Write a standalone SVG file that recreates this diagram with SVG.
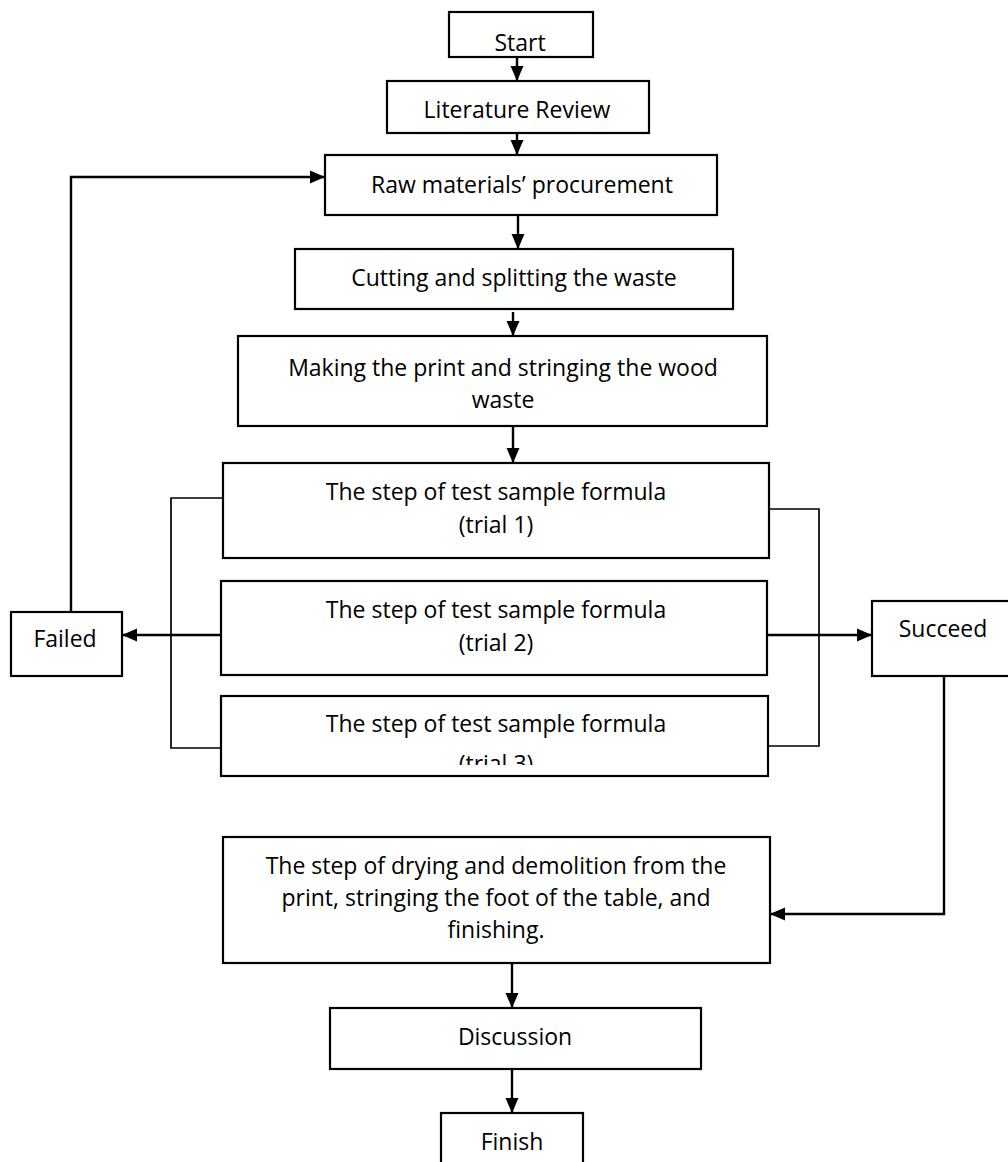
<svg xmlns="http://www.w3.org/2000/svg" width="1008" height="1162" viewBox="0 0 1008 1162">
  <style>
    .box { fill: #ffffff; stroke: #000000; stroke-width: 2.2; }
    .lbl { font-family: "Open Sans", "Liberation Sans", sans-serif; font-size: 23px; fill: #000000; text-anchor: middle; }
    .con { fill: none; stroke: #000000; stroke-width: 2.4; }
    .thin { fill: none; stroke: #000000; stroke-width: 1.7; }
  </style>
  <defs>
    <marker id="arr" markerUnits="userSpaceOnUse" markerWidth="16" markerHeight="16" viewBox="0 0 16 16" refX="15" refY="8" orient="auto">
      <path d="M0,1.5 L15,8 L0,14.5 Z" fill="#000000"/>
    </marker>
    <clipPath id="clip3">
      <rect x="220" y="690" width="550" height="75"/>
    </clipPath>
  </defs>
  <rect width="1008" height="1162" fill="#ffffff"/>

  <g id="connectors">
    <path class="con" d="M517,57 V81" marker-end="url(#arr)"/>
    <path class="con" d="M517,133 V155" marker-end="url(#arr)"/>
    <path class="con" d="M518,215 V249" marker-end="url(#arr)"/>
    <path class="con" d="M513,312 V336" marker-end="url(#arr)"/>
    <path class="con" d="M513,426 V463" marker-end="url(#arr)"/>
    <path class="con" d="M71,612 V177 H325" marker-end="url(#arr)"/>
    <path class="thin" d="M223,498 H171 V748 H221"/>
    <path class="con" d="M221,635 H122" marker-end="url(#arr)"/>
    <path class="thin" d="M767,509 H819 V746 H768"/>
    <path class="con" d="M767,635 H872" marker-end="url(#arr)"/>
    <path class="con" d="M944,676 V914 H770" marker-end="url(#arr)"/>
    <path class="con" d="M512,963 V1008" marker-end="url(#arr)"/>
    <path class="con" d="M512,1069 V1113" marker-end="url(#arr)"/>
  </g>

  <g id="start">
    <rect class="box" x="449" y="12" width="144" height="45"/>
    <text class="lbl" x="520" y="51">Start</text>
  </g>
  <g id="literature">
    <rect class="box" x="387" y="81" width="262" height="52"/>
    <text class="lbl" x="517" y="118">Literature Review</text>
  </g>
  <g id="raw">
    <rect class="box" x="325" y="155" width="392" height="60"/>
    <text class="lbl" x="522" y="193">Raw materials’ procurement</text>
  </g>
  <g id="cutting">
    <rect class="box" x="295" y="249" width="438" height="60"/>
    <text class="lbl" x="514" y="286">Cutting and splitting the waste</text>
  </g>
  <g id="making">
    <rect class="box" x="238" y="336" width="529" height="90"/>
    <text class="lbl" x="503" y="376">Making the print and stringing the wood</text>
    <text class="lbl" x="503" y="408">waste</text>
  </g>
  <g id="trial1">
    <rect class="box" x="223" y="463" width="546" height="95"/>
    <text class="lbl" x="496" y="500">The step of test sample formula</text>
    <text class="lbl" x="496" y="533">(trial 1)</text>
  </g>
  <g id="trial2">
    <rect class="box" x="221" y="581" width="546" height="94"/>
    <text class="lbl" x="496" y="618">The step of test sample formula</text>
    <text class="lbl" x="496" y="651">(trial 2)</text>
  </g>
  <g id="trial3">
    <rect class="box" x="221" y="696" width="547" height="80"/>
    <text class="lbl" x="496" y="732">The step of test sample formula</text>
    <text class="lbl" x="496" y="772" clip-path="url(#clip3)">(trial 3)</text>
  </g>
  <g id="failed">
    <rect class="box" x="11" y="612" width="111" height="64"/>
    <text class="lbl" x="65" y="647">Failed</text>
  </g>
  <g id="succeed">
    <rect class="box" x="872" y="601" width="140" height="75"/>
    <text class="lbl" x="943" y="637">Succeed</text>
  </g>
  <g id="drying">
    <rect class="box" x="223" y="837" width="547" height="126"/>
    <text class="lbl" x="496" y="874">The step of drying and demolition from the</text>
    <text class="lbl" x="496" y="906">print, stringing the foot of the table, and</text>
    <text class="lbl" x="496" y="938">finishing.</text>
  </g>
  <g id="discussion">
    <rect class="box" x="330" y="1008" width="371" height="61"/>
    <text class="lbl" x="515" y="1045">Discussion</text>
  </g>
  <g id="finish">
    <rect class="box" x="441" y="1113" width="142" height="60"/>
    <text class="lbl" x="512" y="1150">Finish</text>
  </g>
</svg>
